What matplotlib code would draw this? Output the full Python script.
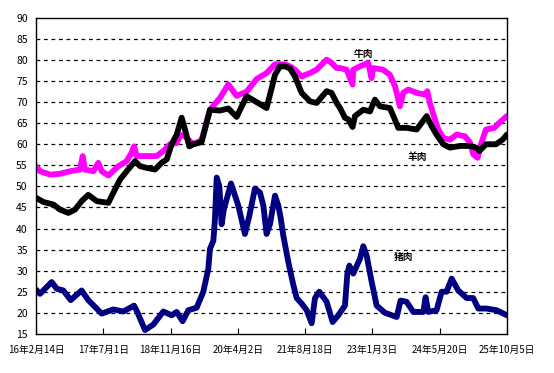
import matplotlib.pyplot as plt
import numpy as np

plt.rcParams['font.family'] = ['Noto Sans CJK SC', 'DejaVu Sans']

# x = days since 2016-02-14
beef_days = [0, 30, 105, 179, 254, 329, 349, 366, 429, 466, 491, 541, 616, 678, 715, 733, 753,
             827, 902, 952, 1002, 1052, 1077, 1101, 1126, 1176, 1238, 1301, 1375, 1438, 1500,
             1575, 1650, 1724, 1787, 1824, 1861, 1899, 1936, 1986, 2048, 2098, 2173, 2210,
             2248, 2273, 2323, 2367, 2372, 2422, 2484, 2509, 2522, 2594, 2646, 2684, 2709,
             2721, 2746, 2784, 2846, 2908, 2926, 2945, 2983, 3008, 3045, 3095, 3145, 3207,
             3245, 3270, 3302, 3327, 3364, 3427, 3464, 3521]
beef = [54.8, 53.6, 52.8, 53.0, 53.6, 54.0, 57.2, 54.0, 53.6, 55.6, 53.6, 52.6, 54.8, 56.0, 58.0,
        59.5, 57.2, 57.2, 57.2, 58.4, 60.0, 60.3, 61.9, 62.3, 61.5, 60.0, 61.0, 68.2, 71.0,
        74.2, 71.5, 72.5, 75.5, 76.9, 79.0, 79.0, 79.0, 78.5, 77.7, 76.1, 76.9, 77.7, 80.1,
        79.3, 78.1, 78.1, 77.7, 74.2, 77.7, 78.5, 79.3, 75.7, 78.1, 77.7, 76.5, 73.8, 70.6,
        69.0, 72.2, 73.0, 72.2, 71.8, 72.6, 69.8, 65.9, 63.5, 61.5, 61.1, 62.3, 61.9, 60.4,
        57.6, 56.8, 60.0, 63.5, 63.9, 65.1, 66.7]

mutton_days = [0, 55, 130, 179, 242, 292, 341, 391, 454, 541, 578, 628, 678, 740, 778, 827, 890,
               939, 977, 1014, 1052, 1089, 1114, 1146, 1176, 1238, 1301, 1375, 1438, 1500,
               1575, 1650, 1724, 1787, 1824, 1861, 1899, 1936, 1986, 2048, 2098, 2173, 2210,
               2248, 2273, 2310, 2335, 2367, 2385, 2447, 2497, 2534, 2572, 2646, 2672, 2709,
               2771, 2846, 2884, 2921, 2958, 2995, 3045, 3095, 3170, 3245, 3290, 3315, 3364,
               3439, 3489, 3521]
mutton = [47.3, 46.3, 45.7, 44.5, 43.7, 44.5, 46.5, 48.0, 46.5, 46.1, 48.5, 51.6, 53.6, 56.0,
          54.8, 54.4, 54.0, 55.6, 56.4, 60.0, 62.3, 66.3, 63.5, 59.5, 60.0, 60.5, 68.2, 68.0,
          68.5, 66.5, 71.4, 70.0, 68.6, 76.5, 78.5, 78.5, 78.0, 76.1, 72.2, 70.2, 69.8, 72.6,
          72.2, 69.8, 68.6, 66.3, 65.9, 64.1, 66.7, 68.2, 67.8, 70.6, 69.0, 68.6, 66.7, 63.9,
          63.9, 63.5, 65.1, 66.7, 64.3, 62.3, 60.0, 59.2, 59.6, 59.6, 59.2, 58.4, 60.0, 60.0,
          61.1, 62.3]

pork_days = [0, 30, 117, 155, 204, 259, 341, 391, 491, 578, 653, 733, 753, 815, 877, 952, 1014,
             1052, 1096, 1139, 1201, 1251, 1288, 1301, 1326, 1338, 1351, 1371, 1388, 1405,
             1458, 1513, 1562, 1595, 1637, 1675, 1700, 1724, 1749, 1787, 1812, 1829, 1849,
             1887, 1924, 1949, 1986, 2024, 2061, 2086, 2118, 2173, 2218, 2260, 2310, 2328,
             2343, 2372, 2422, 2447, 2472, 2510, 2547, 2609, 2697, 2726, 2771, 2821, 2896,
             2913, 2933, 2995, 3033, 3070, 3108, 3157, 3220, 3269, 3307, 3369, 3444, 3521]
pork = [25.5, 24.5, 27.3, 25.7, 25.3, 23.0, 25.3, 23.0, 19.8, 20.8, 20.3, 21.7, 20.5, 15.9, 17.2,
        20.3, 19.4, 20.2, 18.0, 20.6, 21.2, 25.0, 30.4, 35.2, 37.1, 42.2, 52.1, 50.0, 41.0,
        44.6, 50.7, 45.4, 38.7, 43.0, 49.5, 48.5, 45.4, 38.7, 41.0, 47.8, 45.4, 42.6, 38.3,
        32.0, 26.6, 23.5, 22.2, 20.6, 17.5, 23.5, 25.0, 22.6, 17.8, 19.4, 21.7, 29.3, 31.2,
        29.3, 32.8, 35.8, 33.6, 27.3, 21.7, 20.0, 19.0, 22.9, 22.6, 20.2, 20.2, 23.7, 20.2,
        20.6, 25.0, 25.0, 28.1, 25.3, 23.5, 23.5, 21.0, 21.0, 20.6, 19.4]

tick_days = [0, 503, 1006, 1509, 2012, 2515, 3018, 3521]
tick_labels = ['16年2月14日', '17年7月1日', '18年11月16日', '20年4月2日',
               '21年8月18日', '23年1月3日', '24年5月20日', '25年10月5日']

fig = plt.figure(figsize=(5.54, 3.73), dpi=100)
ax = fig.add_axes([0.065, 0.105, 0.85, 0.847])

# 粗线模拟原图中密集的日度散点
ax.plot(beef_days, beef, color='#ff00ff', lw=4.2, solid_joinstyle='round', solid_capstyle='round')
ax.plot(mutton_days, mutton, color='black', lw=4.2, solid_joinstyle='round', solid_capstyle='round')
ax.plot(pork_days, pork, color='#000080', lw=4.2, solid_joinstyle='round', solid_capstyle='round')

ax.set_xlim(0, 3521)
ax.set_ylim(15, 90)
ax.set_yticks(range(15, 91, 5))
ax.set_xticks(tick_days)
ax.set_xticklabels(tick_labels)
for y in range(20, 90, 5):
    ax.axhline(y, color='black', lw=0.9, ls=(0, (3, 3)), zorder=0)

ax.tick_params(axis='x', direction='in', length=4, labelsize=7, pad=8)
ax.tick_params(axis='y', length=0, labelsize=7.5, pad=6)
for s in ax.spines.values():
    s.set_linewidth(1)

ax.text(2450, 81.5, '牛肉', fontsize=7, fontweight='bold', ha='center', va='center')
ax.text(2850, 57.0, '羊肉', fontsize=7, fontweight='bold', ha='center', va='center')
ax.text(2750, 33.2, '猪肉', fontsize=7, fontweight='bold', ha='center', va='center')

fig.savefig('out.png', dpi=100)
